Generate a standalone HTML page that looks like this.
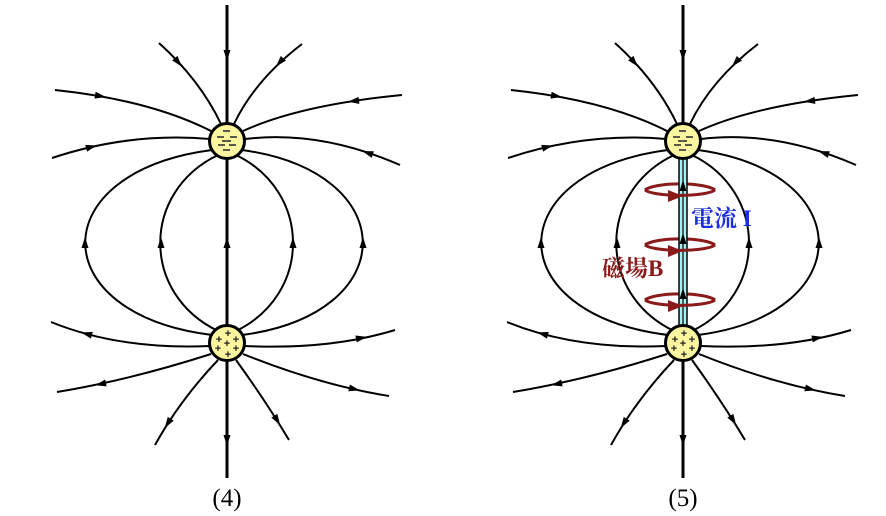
<!DOCTYPE html>
<html><head><meta charset="utf-8"><style>
html,body{margin:0;padding:0;background:#fff;}
svg{display:block;}
</style></head><body>
<svg width="886" height="516" viewBox="0 0 886 516" xmlns="http://www.w3.org/2000/svg">
<defs>
<path id="ah" d="M6,0 L-5,-3.5 L-5,3.5Z" fill="#000"/>
<path id="rh" d="M8,0 L-7,-6 L-7,6Z" fill="#8b1a1a"/>
<g id="field">
 <g fill="none" stroke="#000" stroke-width="2">
  <path d="M159,43 Q200,80 221,124"/>
  <path d="M302,44 Q255,80 234,124"/>
  <path d="M55,90 Q150,100 211,131"/>
  <path d="M402,95 Q300,105 243,131"/>
  <path d="M52,158 Q130,132 210,139"/>
  <path d="M400,165 Q320,130 245,139"/>
  <path d="M212,150 C43,172 43,314 212,335"/>
  <path d="M218,155 C141,192 141,294 218,331"/>
  <path d="M236,155 C312,192 312,294 236,331"/>
  <path d="M242,150 C403,172 403,314 242,335"/>
  <path d="M210,346 Q120,350 51,322"/>
  <path d="M211,354 Q130,380 57,392"/>
  <path d="M218,360 Q180,400 155,445"/>
  <path d="M245,346 Q330,350 395,330"/>
  <path d="M243,354 Q320,385 389,396"/>
  <path d="M236,360 Q265,400 289,440"/>
 </g>
 <line x1="227" y1="5" x2="227" y2="478" stroke="#000" stroke-width="3"/>
 <use href="#ah" transform="translate(227,55) rotate(90)"/>
 <use href="#ah" transform="translate(227,440) rotate(90)"/>
 <use href="#ah" transform="translate(227,243) rotate(-90)"/>
 <use href="#ah" transform="translate(178,62) rotate(50)"/>
 <use href="#ah" transform="translate(280,62) rotate(132)"/>
 <use href="#ah" transform="translate(100,96) rotate(9)"/>
 <use href="#ah" transform="translate(354,101) rotate(173)"/>
 <use href="#ah" transform="translate(91,147) rotate(-15)"/>
 <use href="#ah" transform="translate(368,153) rotate(198)"/>
 <use href="#ah" transform="translate(85,243) rotate(-90)"/>
 <use href="#ah" transform="translate(161,243) rotate(-90)"/>
 <use href="#ah" transform="translate(293,243) rotate(-90)"/>
 <use href="#ah" transform="translate(363,243) rotate(-90)"/>
 <use href="#ah" transform="translate(87,334) rotate(195)"/>
 <use href="#ah" transform="translate(101,384) rotate(168)"/>
 <use href="#ah" transform="translate(168,423) rotate(123)"/>
 <use href="#ah" transform="translate(361,338) rotate(-11)"/>
 <use href="#ah" transform="translate(354,389) rotate(13)"/>
 <use href="#ah" transform="translate(277,420) rotate(58)"/>
</g>
<g id="neg">
 <circle cx="227" cy="141" r="17.5" fill="#fdf6a0" stroke="#000" stroke-width="3"/>
 <g stroke="#333" stroke-width="1.6">
  <line x1="223" y1="131" x2="230" y2="131"/>
  <line x1="217" y1="137" x2="224" y2="137"/>
  <line x1="230" y1="137" x2="237" y2="137"/>
  <line x1="222" y1="141" x2="231" y2="141"/>
  <line x1="218" y1="145" x2="225" y2="145"/>
  <line x1="229" y1="145" x2="236" y2="145"/>
  <line x1="223" y1="150" x2="230" y2="150"/>
 </g>
</g>
<g id="pos">
 <circle cx="227" cy="343" r="17.5" fill="#fdf6a0" stroke="#000" stroke-width="3"/>
 <g font-family="Liberation Sans, sans-serif" font-size="11" font-weight="bold" fill="#222" text-anchor="middle">
  <text x="228" y="337">+</text>
  <text x="219" y="343">+</text>
  <text x="236" y="343">+</text>
  <text x="227" y="347">+</text>
  <text x="218" y="352">+</text>
  <text x="236" y="352">+</text>
  <text x="228" y="358">+</text>
 </g>
</g>
</defs>

<use href="#field"/>
<use href="#neg"/>
<use href="#pos"/>
<text x="227" y="506" font-family="Liberation Serif, serif" font-size="25" text-anchor="middle">(4)</text>

<g transform="translate(456,0)">
 <use href="#field"/>
</g>
<g fill="none" stroke="#8b1a1a" stroke-width="3">
 <path d="M645,190 A36,8 0 0 1 715,190"/>
 <path d="M645,245 A36,8 0 0 1 715,245"/>
 <path d="M645,300 A36,8 0 0 1 715,300"/>
</g>
<rect x="679" y="157" width="8" height="172" fill="#a8f0f0" stroke="#000" stroke-width="1.5"/>
<line x1="683" y1="160" x2="683" y2="326" stroke="#000" stroke-width="1.2"/>
<use href="#ah" transform="translate(683,186) rotate(-90)"/>
<use href="#ah" transform="translate(683,239) rotate(-90)"/>
<use href="#ah" transform="translate(683,294) rotate(-90)"/>
<g fill="none" stroke="#8b1a1a" stroke-width="3">
 <path d="M645,190 A36,7 0 0 0 715,190"/>
 <path d="M645,245 A36,7 0 0 0 715,245"/>
 <path d="M645,300 A36,7 0 0 0 715,300"/>
</g>
<use href="#rh" transform="translate(675,196)"/>
<use href="#rh" transform="translate(675,251)"/>
<use href="#rh" transform="translate(675,306)"/>
<g transform="translate(456,0)">
 <use href="#neg"/>
 <use href="#pos"/>
</g>
<text x="691" y="226" font-family="Liberation Serif, 'Noto Serif CJK SC', serif" font-size="23" font-weight="bold" fill="#1a2ee0">電流 I</text>
<text x="602" y="276" font-family="Liberation Serif, 'Noto Serif CJK SC', serif" font-size="23" font-weight="bold" fill="#8b1a1a">磁場B</text>
<text x="683" y="506" font-family="Liberation Serif, serif" font-size="25" text-anchor="middle">(5)</text>
</svg>
</body></html>
